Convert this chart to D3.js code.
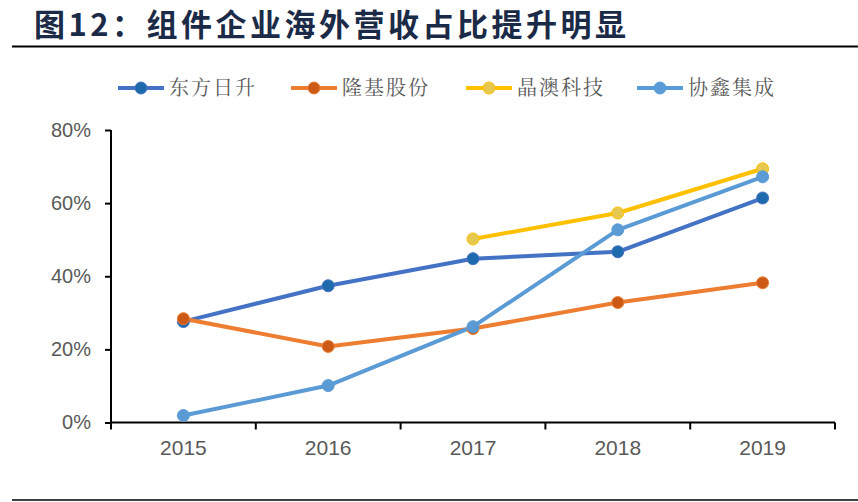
<!DOCTYPE html>
<html>
<head>
<meta charset="utf-8">
<script src="https://cdn.jsdelivr.net/npm/d3@7"></script>
<style>
  html, body { margin: 0; padding: 0; background: #fff; }
  svg { display: block; }
</style>
</head>
<body>
<div id="chart"></div>
<script>
// Data
const years = ['2015', '2016', '2017', '2018', '2019'];
const dongfang = [27.6, 37.4, 44.8, 46.7, 61.4];
const longi = [28.4, 20.8, 25.7, 32.8, 38.2];
const jingao = [null, null, 50.2, 57.3, 69.4];
const xiexin = [1.9, 10.1, 26.2, 52.7, 67.2];
const yTicks = [0, 20, 40, 60, 80];

const series = [
  { name: '东方日升', values: dongfang, line: '#4472C4', dot: '#1F6AAD' },
  { name: '隆基股份', values: longi, line: '#ED7D31', dot: '#CC5A16' },
  { name: '晶澳科技', values: jingao, line: '#FFC000', dot: '#E6C84E' },
  { name: '协鑫集成', values: xiexin, line: '#5B9BD5', dot: '#5B9BD5' }
];

const width = 858;
const height = 502;
const margin = { left: 111, right: 23, top: 130, bottom: 80 };
const font = 'Liberation Sans, Arial, sans-serif';
const cjk = '"Noto Sans CJK SC", sans-serif';

const svg = d3.select('#chart')
  .append('svg')
  .attr('width', width)
  .attr('height', height);

// Title
svg.append('text')
  .attr('x', 34).attr('y', 36)
  .attr('fill', '#1B2A47')
  .attr('font-size', '31px')
  .attr('font-weight', 700)
  .attr('letter-spacing', '3.5px')
  .attr('font-family', cjk)
  .text('图12：组件企业海外营收占比提升明显');

svg.append('line')
  .attr('x1', 12).attr('x2', width)
  .attr('y1', 46.5).attr('y2', 46.5)
  .attr('stroke', '#000').attr('stroke-width', 2);

svg.append('line')
  .attr('x1', 12).attr('x2', width)
  .attr('y1', 500).attr('y2', 500)
  .attr('stroke', '#000').attr('stroke-width', 1.5);

// Scales
const x = d3.scaleBand()
  .domain(years)
  .range([margin.left, width - margin.right]);

const y = d3.scaleLinear()
  .domain([0, 80])
  .range([height - margin.bottom + 0.5, margin.top]);

// Y axis
const yAxis = svg.append('g')
  .attr('transform', `translate(${margin.left},0)`)
  .call(d3.axisLeft(y).tickValues(yTicks).tickSize(6).tickPadding(14).tickFormat(d => d + '%'));
yAxis.select('.domain').attr('stroke', '#000').attr('stroke-width', 2).attr('d', `M0,${y(80)}V${y(0)}`);
yAxis.selectAll('.tick line').attr('stroke', '#000').attr('stroke-width', 2);
yAxis.selectAll('.tick text')
  .attr('fill', '#595959')
  .attr('font-size', '20px')
  .attr('font-family', font);

// X axis, ticks at band boundaries
const xAxis = svg.append('g')
  .attr('transform', `translate(0,${y(0)})`);
xAxis.append('line')
  .attr('x1', margin.left).attr('x2', width - margin.right)
  .attr('stroke', '#000').attr('stroke-width', 2);
const bounds = years.map(d => x(d)).concat([x(years[years.length - 1]) + x.bandwidth()]);
xAxis.selectAll('.xt')
  .data(bounds)
  .join('line')
  .attr('x1', d => d).attr('x2', d => d)
  .attr('y1', 0).attr('y2', 7)
  .attr('stroke', '#000').attr('stroke-width', 2);
xAxis.selectAll('.xl')
  .data(years)
  .join('text')
  .attr('x', d => x(d) + x.bandwidth() / 2)
  .attr('y', 32)
  .attr('text-anchor', 'middle')
  .attr('fill', '#595959')
  .attr('font-size', '21px')
  .attr('font-family', font)
  .text(d => d);

// Lines
const cx = (d, i) => x(years[i]) + x.bandwidth() / 2;
const line = d3.line()
  .defined(d => d != null)
  .x(cx)
  .y(d => y(d));

series.forEach(s => {
  svg.append('path')
    .datum(s.values)
    .attr('fill', 'none')
    .attr('stroke', s.line)
    .attr('stroke-width', 4)
    .attr('stroke-linejoin', 'round')
    .attr('d', line);
});

series.forEach(s => {
  svg.append('g')
    .selectAll('circle')
    .data(s.values.map((v, i) => ({ v, i })).filter(d => d.v != null))
    .join('circle')
    .attr('cx', d => cx(d.v, d.i))
    .attr('cy', d => y(d.v))
    .attr('r', 6)
    .attr('fill', s.dot)
    .attr('stroke', s.line)
    .attr('stroke-width', 1);
});

// Legend
const legendX = [118, 291, 466, 637];
const legend = svg.append('g');
series.forEach((s, i) => {
  const g = legend.append('g').attr('transform', `translate(${legendX[i]},88)`);
  g.append('line')
    .attr('x1', 0).attr('x2', 46)
    .attr('stroke', s.line).attr('stroke-width', 4);
  g.append('circle')
    .attr('cx', 23).attr('cy', 0).attr('r', 6)
    .attr('fill', s.dot).attr('stroke', s.line).attr('stroke-width', 1);
  g.append('text')
    .attr('x', 51).attr('y', 7)
    .attr('fill', '#595959')
    .attr('font-size', '20px')
    .attr('font-family', '"Noto Serif CJK SC", "Noto Sans CJK SC", serif')
    .attr('letter-spacing', '2px')
    .text(s.name);
});
</script>
</body>
</html>
